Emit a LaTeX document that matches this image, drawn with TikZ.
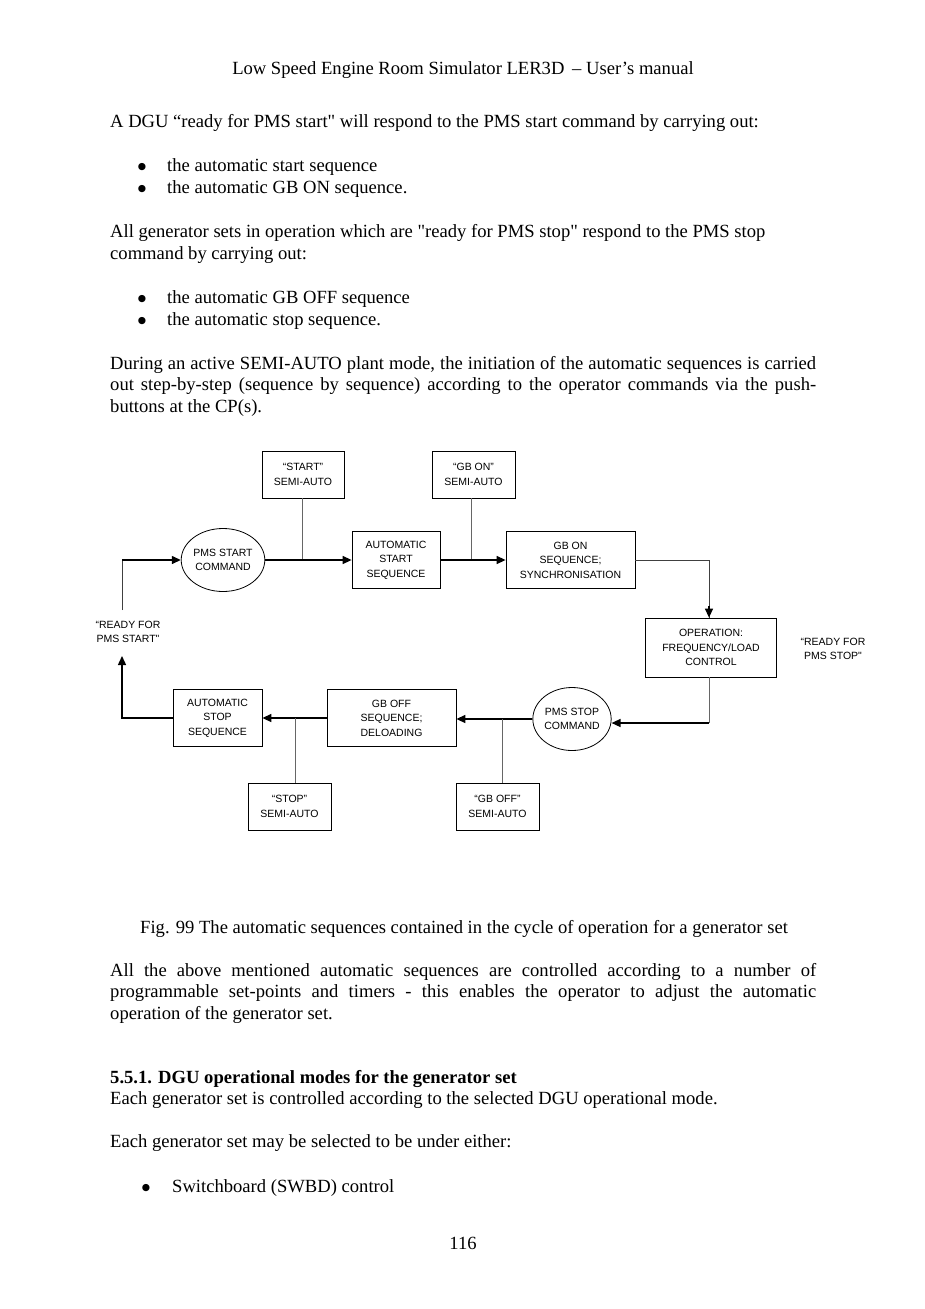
\documentclass[tikz,border=0pt]{standalone}
\usepackage{fontspec}
\newfontfamily\bodyfont{Liberation Serif}
\newfontfamily\diafont{Liberation Sans}
\newfontfamily\symfont{DejaVu Sans}
\usetikzlibrary{arrows.meta,shapes.geometric}
\begin{document}
\begin{tikzpicture}[x=1pt,y=-1pt,
  body/.style={anchor=base west,inner sep=0pt,font=\bodyfont\fontsize{18.6}{21.7}\selectfont},
  bodyc/.style={anchor=base,inner sep=0pt,font=\bodyfont\fontsize{18.6}{21.7}\selectfont},
  bul/.style={anchor=base,inner sep=0pt,font=\symfont\fontsize{9.5}{10}\selectfont},
  dtext/.style={inner sep=0pt,align=center,font=\diafont\fontsize{10.5}{14.5}\selectfont},
  dbox/.style={dtext,draw=black,line width=0.8pt,rectangle},
  dell/.style={dtext,draw=black,line width=0.8pt,ellipse},
  mainline/.style={draw=black,line width=1.4pt},
  tipline/.style={mainline,-{Triangle[length=9pt,width=8pt]}},
  grayline/.style={draw=black!60,line width=1pt},
  thinline/.style={draw=black!75,line width=1pt}
]
\useasboundingbox (0,0) rectangle (925,1309);
\fill[white] (0,0) rectangle (925,1309);

% ---------- page text ----------
\node[bodyc] (hdr) at (463,74) {Low Speed Engine Room Simulator LER3D \,– User’s manual};
\node[body] (p1) at (110,127) {A DGU “ready for PMS start" will respond to the PMS start command by carrying out:};
\node[bul] (b1) at (142,169) {●};
\node[body] (t1) at (167,171) {the automatic start sequence};
\node[bul] (b2) at (142,191) {●};
\node[body] (t2) at (167,193) {the automatic GB ON sequence.};
\node[body] (p2a) at (110,237) {All generator sets in operation which are "ready for PMS stop" respond to the PMS stop};
\node[body] (p2b) at (110,259) {command by carrying out:};
\node[bul] (b3) at (142,301) {●};
\node[body] (t3) at (167,303) {the automatic GB OFF sequence};
\node[bul] (b4) at (142,323) {●};
\node[body] (t4) at (167,325) {the automatic stop sequence.};
\node[body] (p3a) at (110,369) {\makebox[706pt][s]{During an active SEMI-AUTO plant mode, the initiation of the automatic sequences is carried}};
\node[body] (p3b) at (110,390) {\makebox[706pt][s]{out step-by-step (sequence by sequence) according to the operator commands via the push-}};
\node[body] (p3c) at (110,412) {buttons at the CP(s).};

\node[body] (cap) at (140,933) {Fig. 99 The automatic sequences contained in the cycle of operation for a generator set};
\node[body] (p4a) at (110,976) {\makebox[706pt][s]{All the above mentioned automatic sequences are controlled according to a number of}};
\node[body] (p4b) at (110,997) {\makebox[706pt][s]{programmable set-points and timers - this enables the operator to adjust the automatic}};
\node[body] (p4c) at (110,1019) {operation of the generator set.};
\node[body] (h551) at (110,1083) {\bfseries 5.5.1. DGU operational modes for the generator set};
\node[body] (p5) at (110,1104) {Each generator set is controlled according to the selected DGU operational mode.};
\node[body] (p6) at (110,1147) {Each generator set may be selected to be under either:};
\node[bul] (b5) at (146,1190) {●};
\node[body] (t5) at (172,1192) {Switchboard (SWBD) control};
\node[bodyc] (pg) at (463,1249) {116};

% ---------- diagram ----------
\node[dbox,minimum width=82pt,minimum height=47pt] (startsa) at (303,474.5) {“START”\\SEMI-AUTO};
\node[dbox,minimum width=83pt,minimum height=47pt] (gbonsa) at (473.5,474.5) {“GB ON”\\SEMI-AUTO};
\node[dell,minimum width=77pt,minimum height=63pt] (pmsstart) at (223,560) {PMS START\\COMMAND};
\node[dbox,minimum width=88pt,minimum height=57pt] (autostart) at (396,560) {AUTOMATIC\\START\\SEQUENCE};
\node[dbox,minimum width=129pt,minimum height=57pt] (gbonseq) at (570.5,560) {GB ON\\SEQUENCE;\\SYNCHRONISATION};
\node[dbox,minimum width=131pt,minimum height=59pt] (oper) at (711,647.5) {OPERATION:\\FREQUENCY/LOAD\\CONTROL};
\node[dtext] (rstop) at (833,649) {“READY FOR\\PMS STOP"};
\node[dell,minimum width=78pt,minimum height=63pt] (pmsstop) at (572,719) {PMS STOP\\COMMAND};
\node[dbox,minimum width=129pt,minimum height=57pt] (gboffseq) at (391.5,718) {GB OFF\\SEQUENCE;\\DELOADING};
\node[dbox,minimum width=83pt,minimum height=47pt] (gboffsa) at (497.5,806.5) {“GB OFF”\\SEMI-AUTO};
\node[dbox,minimum width=89pt,minimum height=57pt] (autostop) at (217.5,718) {AUTOMATIC\\STOP\\SEQUENCE};
\node[dbox,minimum width=83pt,minimum height=47pt] (stopsa) at (289.5,806.5) {“STOP”\\SEMI-AUTO};
\node[dtext] (rstart) at (128,632) {“READY FOR\\PMS START"};

\coordinate (rsTop) at (122,610);
\coordinate (rsBot) at (122,656);
\coordinate (opCorner) at (709,723);
\coordinate (gbonJ) at (471,560);
\coordinate (startJ) at (302,560);
\coordinate (gboffJ) at (502,719);
\coordinate (stopJ) at (295,718);

% upper row
\draw[thinline] (rsTop) -- (rsTop |- pmsstart.west);
\draw[tipline] (rsTop |- pmsstart.west) -- (pmsstart.west);
\draw[mainline] (pmsstart.east) -- (startJ);
\draw[grayline] (startJ |- startsa.south) -- (startJ);
\draw[tipline] (startJ) -- (autostart.west);
\draw[mainline] (autostart.east) -- (gbonJ);
\draw[grayline] (gbonJ |- gbonsa.south) -- (gbonJ);
\draw[tipline] (gbonJ) -- (gbonseq.west);
\draw[thinline] (gbonseq.east) -| ([xshift=-2pt]oper.north);
\draw[mainline,-{Triangle[length=9pt,width=8pt]}] ([xshift=-2pt,yshift=12pt]oper.north) -- ([xshift=-2pt]oper.north);
% right side down to PMS STOP
\draw[grayline] ([xshift=-2pt]oper.south) -- (opCorner);
\draw[tipline] (opCorner) -- ([yshift=-4pt]pmsstop.east);
% lower row
\draw[mainline] (pmsstop.west) -- (gboffJ);
\draw[grayline] (gboffJ |- gboffsa.north) -- (gboffJ);
\draw[tipline] (gboffJ) -- (gboffJ -| gboffseq.east);
\draw[mainline] (gboffseq.west) -- (stopJ);
\draw[grayline] (stopJ |- stopsa.north) -- (stopJ);
\draw[tipline] (stopJ) -- (autostop.east);
\draw[tipline] (autostop.west) -| (rsBot);
\end{tikzpicture}
\end{document}
